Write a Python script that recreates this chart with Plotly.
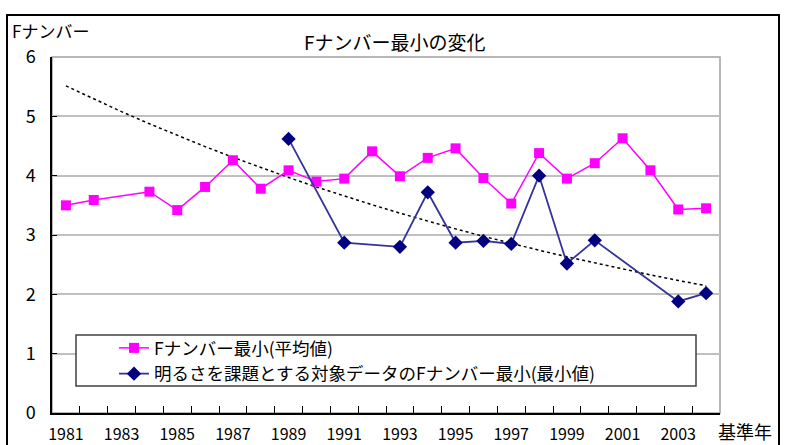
import numpy as np
import plotly.graph_objects as go

years = list(range(1981, 2005))
avg_fnum = [3.50, 3.59, None, 3.73, 3.42, 3.81, 4.26, 3.78, 4.09, 3.90, 3.95, 4.41,
            3.99, 4.30, 4.46, 3.96, 3.53, 4.38, 3.95, 4.21, 4.63, 4.09, 3.43, 3.45]
min_fnum = [None, None, None, None, None, None, None, None, 4.62, None, 2.87, None,
            2.80, 3.72, 2.87, 2.90, 2.85, 4.00, 2.52, 2.91, None, None, 1.88, 2.02]
label_years = list(range(1981, 2005, 2))

name_avg = "Fナンバー最小(平均値)"
name_min = "明るさを課題とする対象データのFナンバー最小(最小値)"
title_text = "Fナンバー最小の変化"
ytitle = "Fナンバー"
xtitle = "基準年"

FONT = "Noto Sans CJK JP"

# exponential trendline fitted on the minimum series (as in a spreadsheet trendline)
xi = np.array([i for i, v in enumerate(min_fnum) if v is not None], dtype=float)
yv = np.array([v for v in min_fnum if v is not None], dtype=float)
b, a = np.polyfit(xi, np.log(yv), 1)
trend = np.exp(a + b * np.arange(len(years)))

fig = go.Figure()
fig.add_trace(go.Scatter(x=years, y=trend, mode="lines", showlegend=False,
                         line=dict(color="black", width=1.5, dash="dot"), hoverinfo="skip"))
fig.add_trace(go.Scatter(x=years, y=avg_fnum, mode="lines+markers", name=name_avg,
                         connectgaps=True,
                         line=dict(color="#FF00FF", width=1.5),
                         marker=dict(symbol="square", size=10, color="#FF00FF")))
fig.add_trace(go.Scatter(x=years, y=min_fnum, mode="lines+markers", name=name_min,
                         connectgaps=True,
                         line=dict(color="#333399", width=1.8),
                         marker=dict(symbol="diamond", size=11, color="#000080")))

L, R, T, B = 52, 68, 57, 32
W, H = 788, 445
pw, ph = W - L - R, H - T - B

def px2paper_x(px):
    return (px - L) / pw

def px2paper_y(py):
    return (H - B - py) / ph

boundaries = [years[0] - 0.5 + i for i in range(len(years) + 1)]

fig.update_layout(
    width=W, height=H,
    margin=dict(l=L, r=R, t=T, b=B, autoexpand=False),
    paper_bgcolor="white", plot_bgcolor="white",
    font=dict(family=FONT, color="black"),
    showlegend=True,
    legend=dict(x=px2paper_x(114), y=px2paper_y(330), xanchor="left", yanchor="top",
                bgcolor="rgba(0,0,0,0)", borderwidth=0,
                font=dict(size=17.5, family=FONT), tracegroupgap=0,
                traceorder="normal"),
    xaxis=dict(range=[years[0] - 0.5, years[-1] + 0.5], tickmode="array",
               tickvals=label_years, ticktext=[str(y) for y in label_years],
               ticks="inside", ticklen=7, tickcolor="rgba(0,0,0,0)",
               showgrid=False, zeroline=False, automargin=False,
               showline=True, linecolor="black", linewidth=1.5,
               tickfont=dict(size=16, family=FONT), ticklabelstandoff=6,
               minor=dict(tickmode="array", tickvals=boundaries, ticks="inside",
                          ticklen=7, tickcolor="black", tickwidth=1, showgrid=False)),
    yaxis=dict(range=[0, 6], tickmode="linear", tick0=0, dtick=1,
               ticks="inside", ticklen=5, tickcolor="black", automargin=False,
               showgrid=True, gridcolor="#c0c0c0", gridwidth=1.5, zeroline=False,
               showline=True, linecolor="black", linewidth=1.5,
               tickfont=dict(size=18, family=FONT), ticklabelstandoff=11),
    shapes=[
        dict(type="rect", xref="paper", yref="paper", x0=0, x1=1, y0=0, y1=1,
             line=dict(color="#a0a0a0", width=1.5), layer="below"),
        dict(type="line", xref="paper", yref="y", x0=0, x1=1, y0=1, y1=1,
             line=dict(color="#303030", width=1.5), layer="below"),
        dict(type="rect", xref="paper", yref="paper",
             x0=px2paper_x(7), x1=px2paper_x(779), y0=px2paper_y(480), y1=px2paper_y(15),
             line=dict(color="black", width=2), layer="below"),
        dict(type="rect", xref="paper", yref="paper",
             x0=px2paper_x(76), x1=px2paper_x(696), y0=px2paper_y(386), y1=px2paper_y(335),
             line=dict(color="#404040", width=1.5), fillcolor="white", layer="above"),
    ],
    annotations=[
        dict(text=title_text, xref="paper", yref="paper", x=px2paper_x(395), y=px2paper_y(42),
             xanchor="center", yanchor="middle", showarrow=False, font=dict(size=19, family=FONT)),
        dict(text=ytitle, xref="paper", yref="paper", x=px2paper_x(10), y=px2paper_y(30),
             xanchor="left", yanchor="middle", showarrow=False, font=dict(size=17, family=FONT)),
        dict(text=xtitle, xref="paper", yref="paper", x=px2paper_x(716), y=px2paper_y(431),
             xanchor="left", yanchor="middle", showarrow=False, font=dict(size=18, family=FONT)),
    ],
)

fig.write_html("out.html")
